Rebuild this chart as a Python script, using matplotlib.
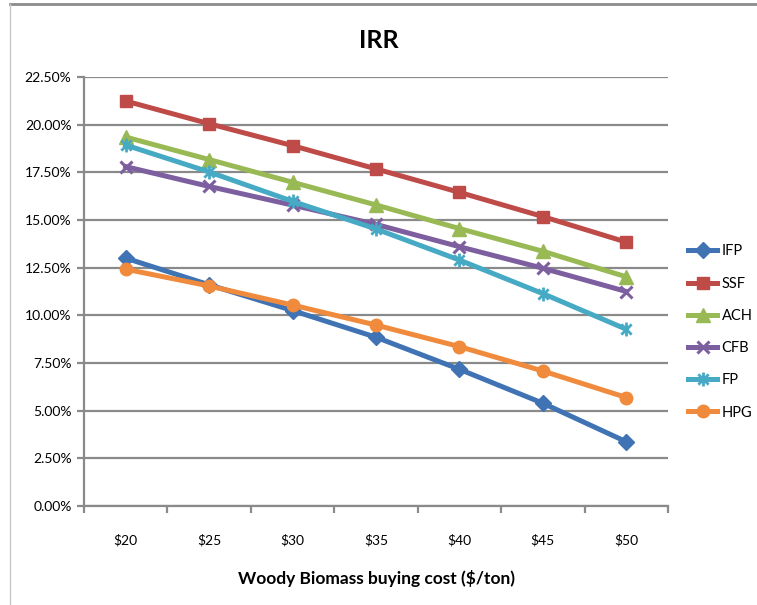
import matplotlib
matplotlib.use("Agg")
import matplotlib.pyplot as plt
from matplotlib.lines import Line2D
from matplotlib.path import Path
from matplotlib.ticker import FuncFormatter, FixedLocator

plt.rcParams["font.family"] = ["Lato", "DejaVu Sans"]

costs = ["$20", "$25", "$30", "$35", "$40", "$45", "$50"]

# IRR (%) by woody biomass buying cost
ifp = [13.00, 11.60, 10.25, 8.85, 7.17, 5.39, 3.37]
ssf = [21.24, 20.05, 18.90, 17.68, 16.45, 15.18, 13.84]
ach = [19.35, 18.17, 16.98, 15.79, 14.55, 13.36, 12.02]
cfb = [17.80, 16.76, 15.78, 14.77, 13.60, 12.47, 11.25]
fp = [18.93, 17.52, 15.98, 14.53, 12.90, 11.14, 9.27]
hpg = [12.42, 11.54, 10.54, 9.49, 8.36, 7.08, 5.69]

# Excel-style "star": an X with a vertical stroke
star = Path(
    [(-1, -1), (1, 1), (-1, 1), (1, -1), (0, -1.35), (0, 1.35)],
    [Path.MOVETO, Path.LINETO, Path.MOVETO, Path.LINETO, Path.MOVETO, Path.LINETO],
)

series = [
    ("IFP", ifp, "#3F73B3", dict(marker="D", ms=8)),
    ("SSF", ssf, "#BE4B48", dict(marker="s", ms=9)),
    ("ACH", ach, "#98B954", dict(marker="^", ms=10)),
    ("CFB", cfb, "#7D5FA0", dict(marker="x", ms=9, mew=2.2)),
    ("FP", fp, "#46AAC5", dict(marker=star, ms=10, mew=2.0)),
    ("HPG", hpg, "#F08A3C", dict(marker="o", ms=9)),
]

fig = plt.figure(figsize=(7.57, 6.05), dpi=100)
ax = fig.add_axes([84 / 757, 1 - 506 / 605, 584 / 757, 429 / 605])

x = list(range(len(costs)))
for name, vals, col, mk in series:
    ax.plot(x, vals, color=col, lw=3.6, label=name, mec=col, mfc=col,
            solid_joinstyle="round", **mk)

ax.set_xlim(-0.5, len(costs) - 0.5)
ax.set_ylim(0, 22.5)
ax.set_yticks([i * 2.5 for i in range(10)])
ax.yaxis.set_major_formatter(FuncFormatter(lambda v, _: f"{v:.2f}%"))
ax.yaxis.grid(True, color="#8A8A8A", lw=1.6)
ax.set_axisbelow(True)

ax.set_xticks(x)
ax.set_xticklabels(costs)
ax.xaxis.set_minor_locator(FixedLocator([i - 0.5 for i in range(len(costs) + 1)]))
ax.tick_params(axis="x", which="major", length=0, pad=20, labelsize=10)
ax.tick_params(axis="x", which="minor", length=5, width=1.6, color="#8A8A8A", direction="out")
ax.tick_params(axis="y", length=5, width=1.6, color="#8A8A8A", direction="out", labelsize=10, pad=4)

for s in ("top", "right"):
    ax.spines[s].set_visible(False)
for s in ("left", "bottom"):
    ax.spines[s].set_color("#8A8A8A")
    ax.spines[s].set_linewidth(1.6)

ax.set_xlabel("Woody Biomass buying cost ($/ton)", fontsize=12.5, fontweight="bold", labelpad=17)
fig.text(0.5, 1 - 40 / 605, "IRR", ha="center", va="center", fontsize=18, fontweight="bold")

ax.legend(loc="center left", bbox_to_anchor=(688 / 757, 1 - 332 / 605),
          bbox_transform=fig.transFigure, frameon=False, fontsize=10.5,
          handlelength=2.0, labelspacing=1.25, handletextpad=0.3, borderpad=0,
          borderaxespad=0)

# chart frame
fig.add_artist(Line2D([10 / 757, 1], [1 - 4 / 605, 1 - 4 / 605], color="#8C8C8C", lw=2.0))
fig.add_artist(Line2D([10 / 757, 10 / 757], [0, 1 - 4 / 605], color="#C8C8C8", lw=1.0))

fig.savefig("out.png", dpi=100)
